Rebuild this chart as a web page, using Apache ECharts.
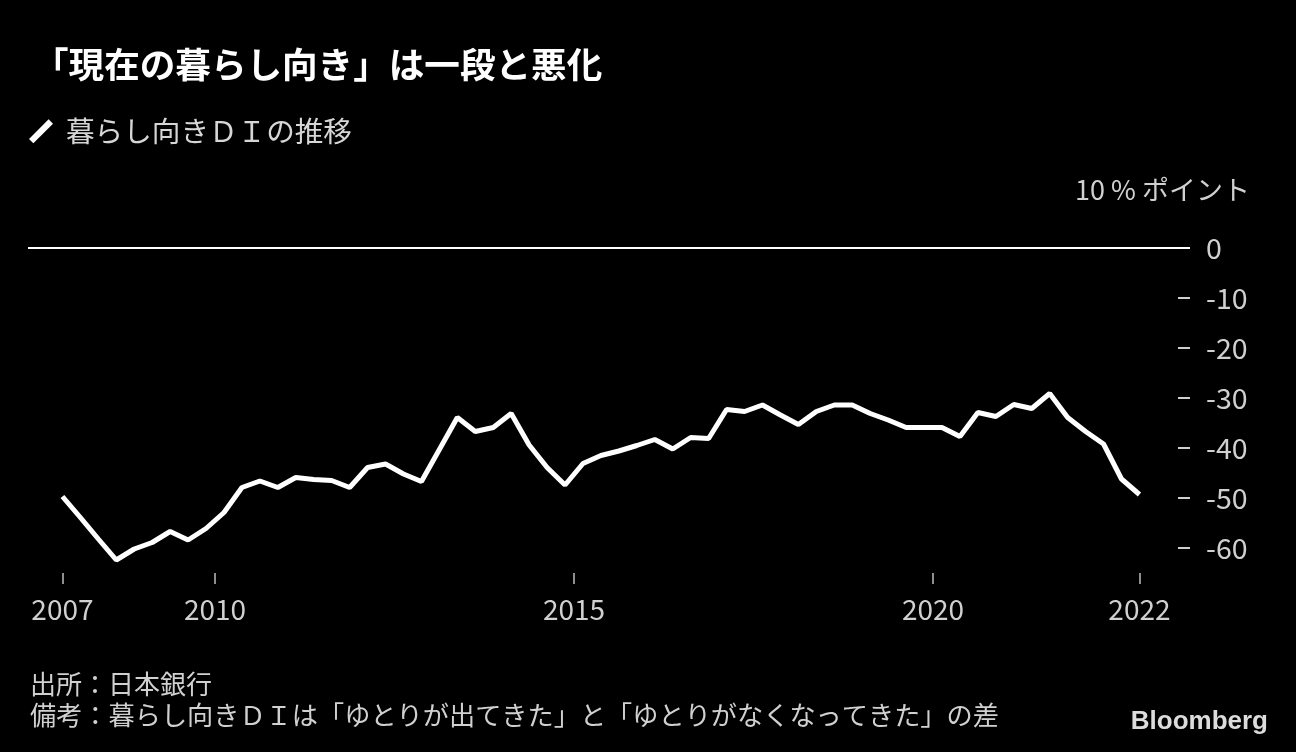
<!DOCTYPE html>
<html>
<head>
<meta charset="utf-8">
<script src="https://cdn.jsdelivr.net/npm/echarts@6/dist/echarts.min.js"></script>
<style>
html,body{margin:0;padding:0;background:#000;}
#chart{width:1296px;height:752px;}
</style>
</head>
<body>
<div id="chart"></div>
<script>
// Survey periods (quarterly, year-month)
const periods = [
  "2007-12",
  "2008-03","2008-06","2008-09","2008-12",
  "2009-03","2009-06","2009-09","2009-12",
  "2010-03","2010-06","2010-09","2010-12",
  "2011-03","2011-06","2011-09","2011-12",
  "2012-03","2012-06","2012-09","2012-12",
  "2013-03","2013-06","2013-09","2013-12",
  "2014-03","2014-06","2014-09","2014-12",
  "2015-03","2015-06","2015-09","2015-12",
  "2016-03","2016-06","2016-09","2016-12",
  "2017-03","2017-06","2017-09","2017-12",
  "2018-03","2018-06","2018-09","2018-12",
  "2019-03","2019-06","2019-09","2019-12",
  "2020-03","2020-06","2020-09","2020-12",
  "2021-03","2021-06","2021-09","2021-12",
  "2022-03","2022-06","2022-09","2022-12"
];
// 暮らし向きDI (% points)
const diValues = [
  -49.7,
  -53.9, -58.2, -62.4, -60.2,
  -58.9, -56.7, -58.4, -56.1,
  -52.9, -47.9, -46.6, -47.9,
  -45.9, -46.3, -46.5, -47.9,
  -43.9, -43.2, -45.2, -46.7,
  -40.3, -33.9, -36.7, -35.9,
  -33.1, -39.4, -43.9, -47.4,
  -43.1, -41.5, -40.6, -39.5,
  -38.3, -40.2, -37.9, -38.1,
  -32.3, -32.7, -31.4, -33.4,
  -35.3, -32.7, -31.4, -31.4,
  -33.1, -34.4, -35.9, -35.9,
  -35.9, -37.7, -32.9, -33.7,
  -31.3, -32.1, -29.1, -33.9,
  -36.7, -39.2, -46.2, -49.3
];
const yTicks = [-60, -50, -40, -30, -20, -10, 0];
const xTickYears = [2010, 2015, 2020];

const titleText = "「現在の暮らし向き」は一段と悪化";
const seriesName = "暮らし向きＤＩの推移";
const unitText = "10 % ポイント";
const sourceText = "出所：日本銀行";
const noteText = "備考：暮らし向きＤＩは「ゆとりが出てきた」と「ゆとりがなくなってきた」の差";

const FONT = '"Noto Sans CJK JP", "Noto Sans", sans-serif';

function toX(p) {
  const [y, m] = p.split("-").map(Number);
  return y + (m - 1.5) / 12;
}
const data = periods.map((p, i) => [toX(p), diValues[i]]);
const firstX = data[0][0];
const lastX = data[data.length - 1][0];
const xCustom = [firstX].concat(xTickYears, [lastX]);

const chart = echarts.init(document.getElementById('chart'));
chart.setOption({
  backgroundColor: '#000',
  animation: false,
  textStyle: { fontFamily: FONT },
  title: {
    text: titleText,
    left: 28, top: 42,
    textStyle: { color: '#fff', fontSize: 35.6, fontWeight: 'bold', fontFamily: FONT }
  },
  legend: {
    left: 29, top: 117,
    itemWidth: 24, itemHeight: 24,
    itemGap: 10,
    padding: 0,
    icon: 'path://M0,18 L18,0 L22,4 L4,22 Z',
    data: [{ name: seriesName, itemStyle: { color: '#fff' } }],
    textStyle: { color: '#d6d6d6', fontSize: 28.6, fontFamily: FONT, padding: [0, 0, 0, 8] }
  },
  grid: { left: 28, right: 106, top: 248, bottom: 179, containLabel: false },
  xAxis: {
    type: 'value',
    min: 2007.3955, max: 2023.579,
    axisLine: { show: false, onZero: false },
    splitLine: { show: false },
    axisTick: { show: true, customValues: xCustom, length: 11, lineStyle: { color: '#bdbdbd', width: 1.5 } },
    axisLabel: {
      show: true, customValues: xCustom, margin: 22,
      color: '#d0d0d0', fontSize: 28, fontFamily: FONT,
      formatter: v => String(Math.floor(v + 1e-6))
    }
  },
  yAxis: {
    type: 'value',
    position: 'right',
    min: -65, max: 0,
    axisLine: { show: false },
    splitLine: { show: false },
    axisTick: { show: true, inside: true, customValues: yTicks, length: 12, lineStyle: { color: '#cfcfcf', width: 2 } },
    axisLabel: {
      show: true, customValues: yTicks, margin: 16, align: 'left',
      color: '#d0d0d0', fontSize: 28.5, fontFamily: FONT
    }
  },
  graphic: [
    { type: 'text', right: 46, top: 176, style: { text: unitText, fill: '#d0d0d0', fontSize: 27, fontFamily: FONT } },
    { type: 'text', left: 30, top: 671, style: { text: sourceText, fill: '#d0d0d0', fontSize: 26, fontFamily: FONT } },
    { type: 'text', left: 30, top: 702, style: { text: noteText, fill: '#d0d0d0', fontSize: 26.2, fontFamily: FONT } },
    { type: 'text', right: 28, top: 709, style: { text: 'Bloomberg', fill: '#dcdcdc', fontSize: 26, fontWeight: 'bold', fontFamily: '"Liberation Sans", Arial, sans-serif' } }
  ],
  series: [{
    name: seriesName,
    type: 'line',
    data: data,
    showSymbol: false,
    symbol: 'none',
    lineStyle: { color: '#fff', width: 5 },
    itemStyle: { color: '#fff' },
    markLine: {
      silent: true,
      symbol: 'none',
      label: { show: false },
      lineStyle: { color: '#fff', width: 2, type: 'solid' },
      data: [{ yAxis: 0 }]
    },
    z: 3
  }]
});
</script>
</body>
</html>
